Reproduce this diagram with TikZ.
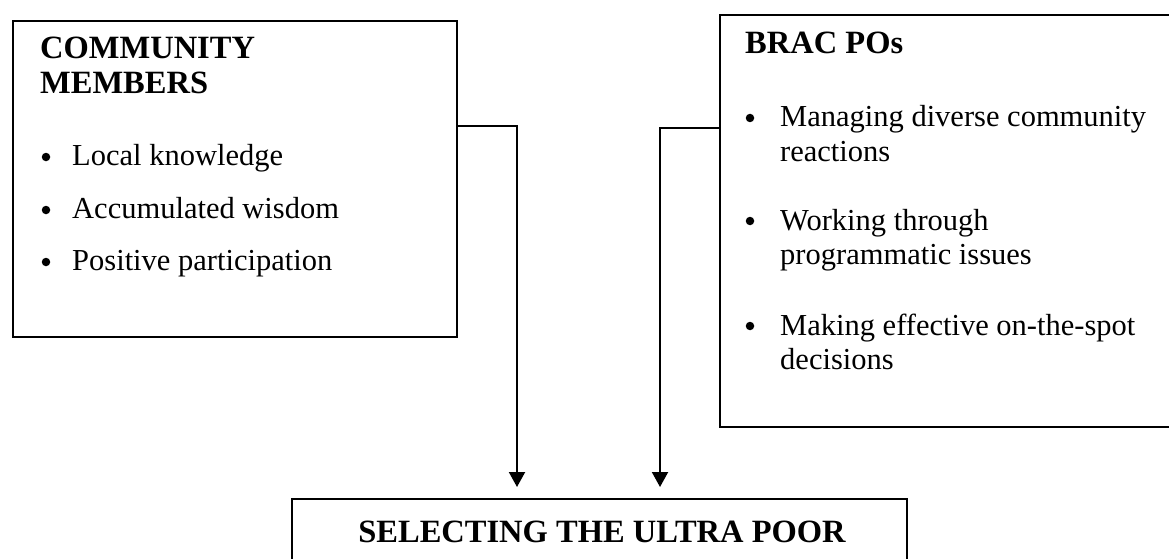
\documentclass[tikz,border=0pt]{standalone}
\usepackage{fontspec}
\setmainfont{Liberation Serif}
\usetikzlibrary{arrows.meta}
\begin{document}
\begin{tikzpicture}[x=1pt,y=-1pt,
  box/.style={draw,line width=2.2pt,rectangle,inner sep=0pt,outer sep=0pt,anchor=north west},
  txt/.style={anchor=base west,inner sep=0pt,font=\fontsize{30.5}{35}\selectfont},
  head/.style={anchor=base west,inner sep=0pt,font=\fontsize{32.5}{35}\selectfont\bfseries},
  bul/.style={circle,fill,inner sep=0pt,minimum size=8.5pt},
  conn/.style={line width=2pt,-{Triangle[width=16pt,length=15pt]},shorten >=12pt}]
\clip (0,0) rectangle (1169,559);
\fill[white] (0,0) rectangle (1169,559);
% boxes
\node[box,minimum width=444pt,minimum height=316pt] (cm) at (13,21) {};
\node[box,minimum width=480pt,minimum height=412pt] (brac) at (720,15) {};
\node[box,minimum width=615pt,minimum height=100pt] (sel) at (292,499) {};
% community members
\node[head] (cmh1) at (40,59) {COMMUNITY};
\node[head] (cmh2) at (40,94) {MEMBERS};
\node[bul] (cb1) at (46,157) {};
\node[txt] (ct1) at (72,165) {Local knowledge};
\node[bul] (cb2) at (46,210) {};
\node[txt] (ct2) at (72,218) {Accumulated wisdom};
\node[bul] (cb3) at (46,262) {};
\node[txt] (ct3) at (72,270) {Positive participation};
% BRAC POs
\node[head] (bh) at (745,54) {BRAC POs};
\node[bul] (bb1) at (750,118) {};
\node[txt] (bt1a) at (780,127) {Managing diverse community};
\node[txt] (bt1b) at (780,161) {reactions};
\node[bul] (bb2) at (750,221) {};
\node[txt] (bt2a) at (780,230) {Working through};
\node[txt] (bt2b) at (780,264) {programmatic issues};
\node[bul] (bb3) at (750,326) {};
\node[txt] (bt3a) at (780,335) {Making effective on-the-spot};
\node[txt] (bt3b) at (780,369) {decisions};
% selecting
\node[anchor=base,inner sep=0pt,font=\fontsize{32.5}{35}\selectfont\bfseries] (selt) at (602,542) {SELECTING THE ULTRA POOR};
% connectors
\coordinate (c1) at (517,126);
\coordinate (c2) at (660,128);
\draw[conn] (cm.east |- c1) -| (c1 |- sel.north);
\draw[conn] (brac.west |- c2) -| (c2 |- sel.north);
\end{tikzpicture}
\end{document}
